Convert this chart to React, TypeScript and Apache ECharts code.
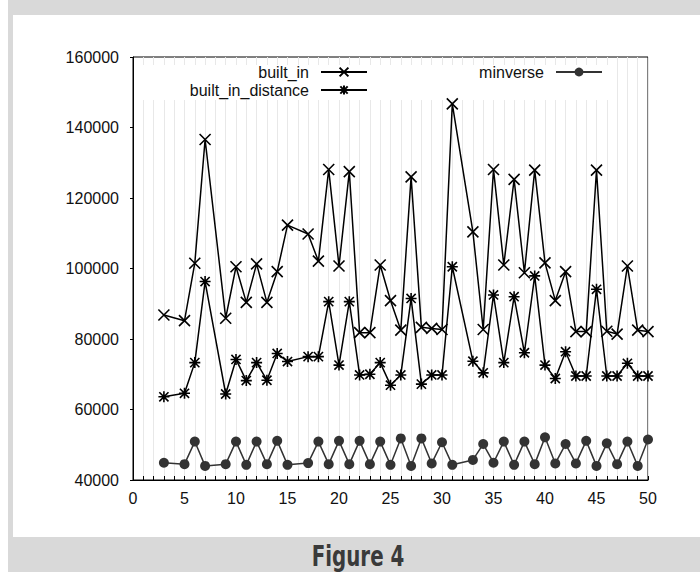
import React, { useEffect, useRef } from "react";
import * as echarts from "echarts";

const xValues = [3, 5, 6, 7, 9, 10, 11, 12, 13, 14, 15, 17, 18, 19, 20, 21, 22, 23, 24, 25, 26, 27, 28, 29, 30, 31, 33, 34, 35, 36, 37, 38, 39, 40, 41, 42, 43, 44, 45, 46, 47, 48, 49, 50];
const builtIn = [86800, 85200, 101500, 136600, 85900, 100500, 90400, 101300, 90400, 99100, 112300, 109800, 102100, 128100, 100700, 127500, 81800, 81800, 101000, 90900, 82500, 126000, 83300, 83000, 82700, 146700, 110400, 82700, 128100, 101000, 125300, 98800, 127900, 101600, 90900, 99100, 82100, 82100, 127900, 82200, 81400, 100700, 82500, 82100];
const builtInDistance = [63600, 64600, 73300, 96300, 64400, 74200, 68200, 73300, 68300, 75900, 73600, 75000, 75000, 90600, 72600, 90600, 69800, 70000, 73300, 66900, 69800, 91500, 67200, 69800, 69800, 100500, 73700, 70400, 92500, 73300, 92000, 76100, 97900, 72600, 68800, 76400, 69500, 69500, 94100, 69500, 69500, 73100, 69500, 69500];
const minverse = [44900, 44500, 50900, 44000, 44500, 50900, 44300, 50900, 44500, 51100, 44300, 44800, 50900, 44500, 51100, 44500, 51100, 44500, 50900, 44300, 51800, 44000, 51800, 44700, 50700, 44300, 45700, 50200, 44900, 50900, 44300, 50900, 44500, 52100, 44700, 50200, 44700, 51100, 44000, 50400, 44500, 50900, 44000, 51500];
const seriesNames = ["built_in", "built_in_distance", "minverse"];
const titleText = "Figure 4";

const FONT = "'Liberation Sans', Arial, sans-serif";
const X_SYMBOL = "path://M0,0 L10,10 M10,0 L0,10";
const STAR_SYMBOL = "path://M0,0 L10,10 M10,0 L0,10 M5,-1 L5,11 M-1,5 L11,5";

export default function App() {
  const ref = useRef<HTMLDivElement>(null);
  useEffect(() => {
    if (!ref.current) return;
    const chart = echarts.init(ref.current, undefined, { renderer: "svg" });
    const toPairs = (vals: number[]) => xValues.map((x, i) => [x, vals[i]]);
    const legendText = { fontSize: 16, fontFamily: FONT, color: "#111", padding: [0, 7, 0, 0] };
    chart.setOption({
      animation: false,
      backgroundColor: "#fff",
      grid: { left: 133, right: 52, top: 57, bottom: 92, show: true, borderColor: "#000", borderWidth: 1, backgroundColor: "transparent" },
      xAxis: {
        type: "value", min: 0, max: 50, interval: 5,
        axisLine: { lineStyle: { color: "#000", width: 1 } },
        axisTick: { inside: true, length: 4, lineStyle: { color: "#000" } },
        minorTick: { show: true, splitNumber: 5, length: 4, lineStyle: { color: "#000" } },
        splitLine: { show: true, lineStyle: { color: "#e8e8e8", width: 1 } },
        minorSplitLine: { show: true, lineStyle: { color: "#e8e8e8", width: 1 } },
        axisLabel: { fontSize: 16, fontFamily: FONT, color: "#111", margin: 10 },
      },
      yAxis: {
        type: "value", min: 40000, max: 160000, interval: 20000,
        axisLine: { lineStyle: { color: "#000", width: 1 } },
        axisTick: { show: true, length: 3, lineStyle: { color: "#000" } },
        splitLine: { show: false },
        axisLabel: { fontSize: 16, fontFamily: FONT, color: "#111", margin: 14, formatter: (v: number) => String(v) },
      },
      legend: [
        { data: [seriesNames[0]], right: 332, top: 64, align: "right", padding: 0, itemWidth: 46, itemHeight: 11, textStyle: legendText },
        { data: [seriesNames[1]], right: 332, top: 82, align: "right", padding: 0, itemWidth: 46, itemHeight: 11, textStyle: legendText },
        { data: [seriesNames[2]], right: 97, top: 64, align: "right", padding: 0, itemWidth: 46, itemHeight: 11, textStyle: legendText },
      ],
      graphic: [
        { type: "rect", shape: { x: 8, y: 0, width: 692, height: 15 }, style: { fill: "#d9d9d9" }, z: 0 },
        { type: "rect", shape: { x: 8, y: 0, width: 5, height: 540 }, style: { fill: "#d9d9d9" }, z: 0 },
        { type: "rect", shape: { x: 8, y: 537, width: 692, height: 35 }, style: { fill: "#d9d9d9" }, z: 0 },
        { type: "rect", shape: { x: 134, y: 65, width: 478, height: 35 }, style: { fill: "#fff" }, z: 1 },
        {
          type: "text", x: 358, y: 556, z: 3, scaleX: 0.76, originX: 0, originY: 0,
          style: { text: titleText, fontSize: 29, fontWeight: "bold", fontFamily: "'DejaVu Sans Condensed', 'DejaVu Sans', sans-serif", fill: "#3a3a3a", align: "center", verticalAlign: "middle" },
        },
      ],
      series: [
        {
          name: seriesNames[0], type: "line", data: toPairs(builtIn),
          symbol: X_SYMBOL, symbolSize: 11, showAllSymbol: true,
          lineStyle: { color: "#000", width: 1.5 },
          itemStyle: { color: "#000", borderColor: "#000", borderWidth: 1.6 },
          z: 3,
        },
        {
          name: seriesNames[1], type: "line", data: toPairs(builtInDistance),
          symbol: STAR_SYMBOL, symbolSize: 11, showAllSymbol: true,
          lineStyle: { color: "#000", width: 1.5 },
          itemStyle: { color: "#000", borderColor: "#000", borderWidth: 1.6 },
          z: 3,
        },
        {
          name: seriesNames[2], type: "line", data: toPairs(minverse),
          symbol: "circle", symbolSize: 10, showAllSymbol: true,
          lineStyle: { color: "#333", width: 1.5 },
          itemStyle: { color: "#333", borderColor: "#333", borderWidth: 0 },
          z: 3,
        },
      ],
    });
    return () => chart.dispose();
  }, []);
  return <div ref={ref} style={{ position: "absolute", left: 0, top: 0, width: 700, height: 572 }} />;
}
